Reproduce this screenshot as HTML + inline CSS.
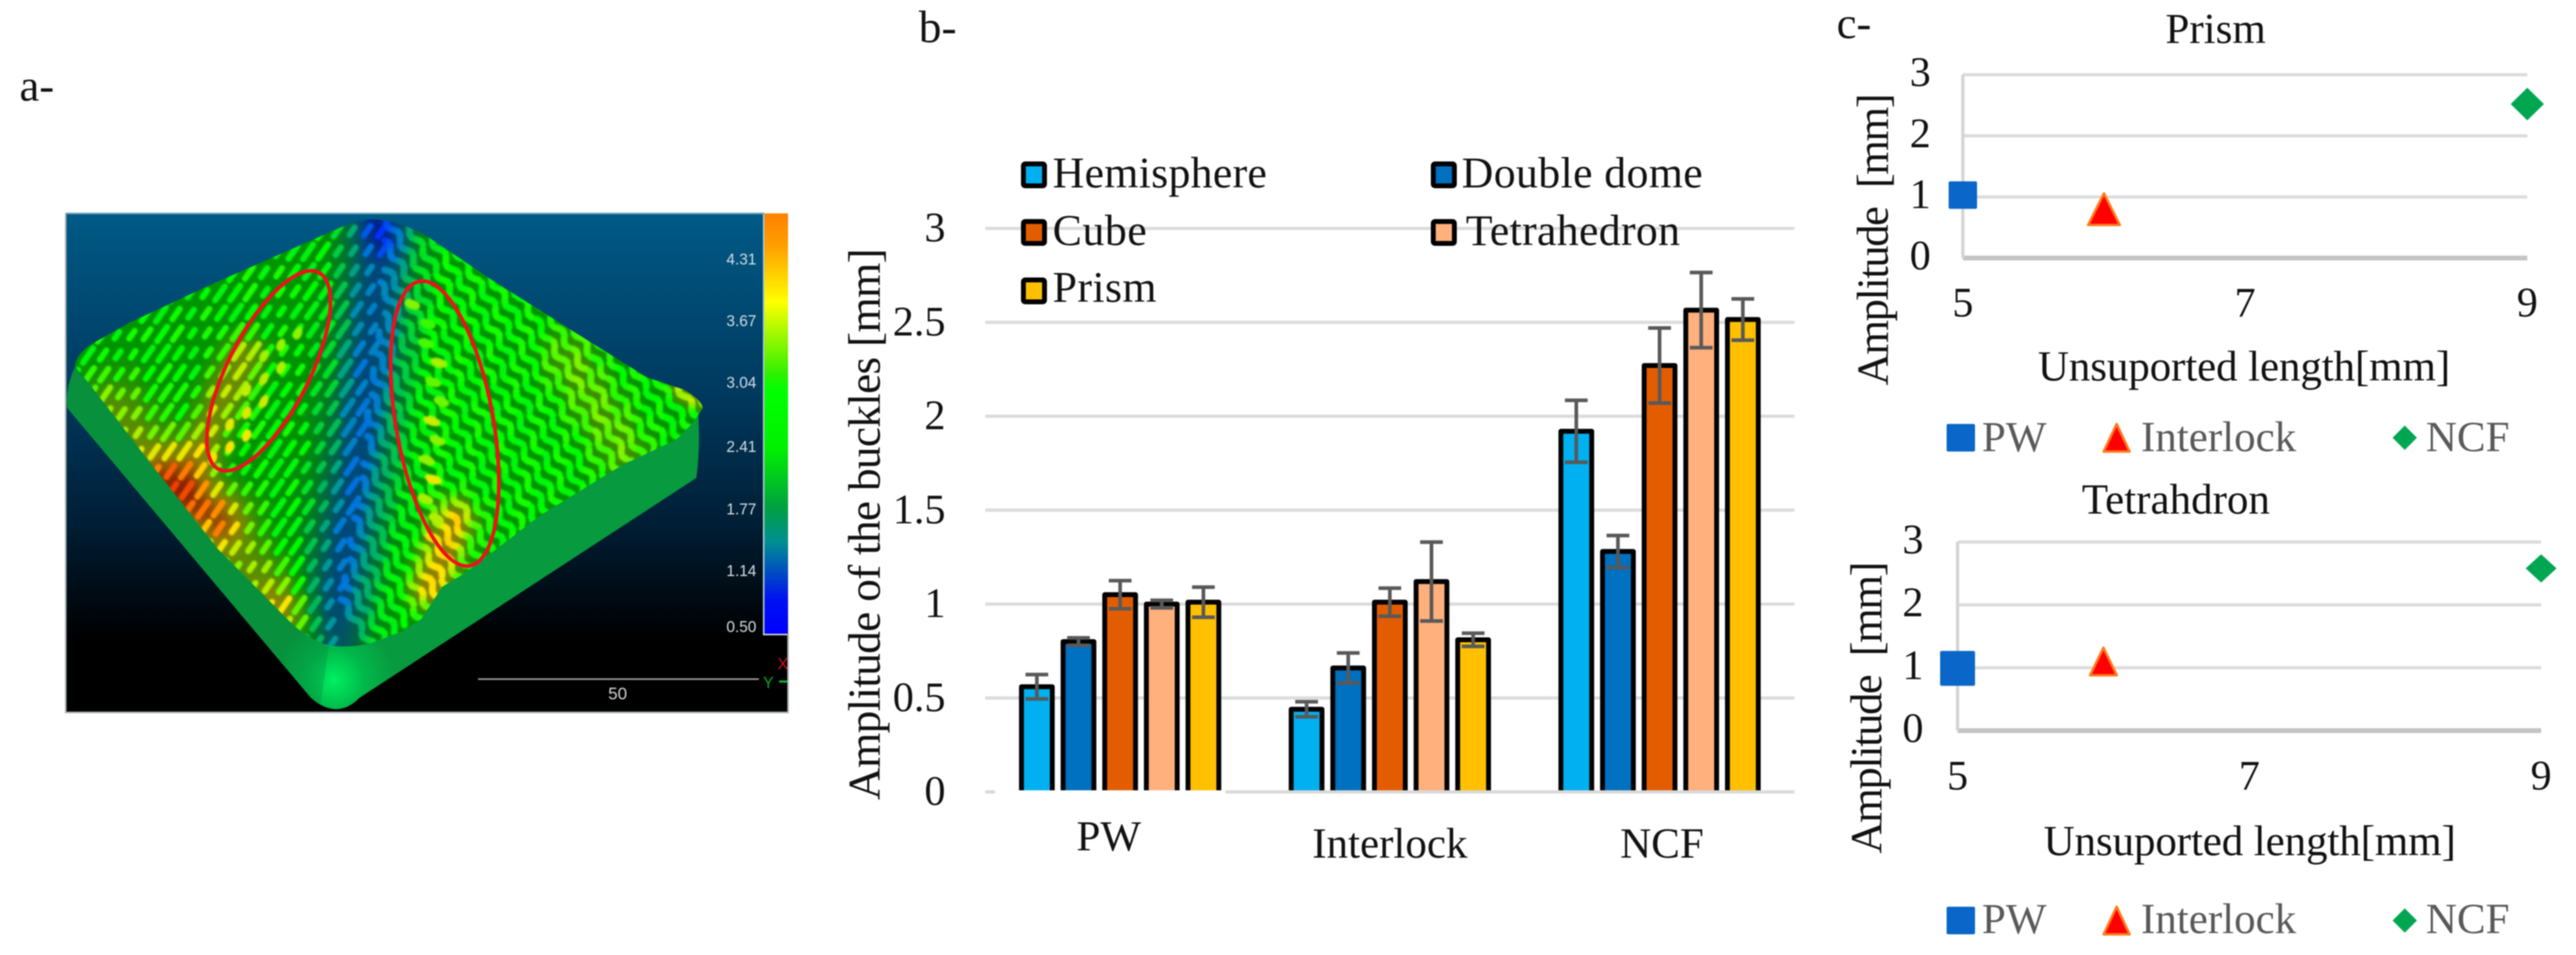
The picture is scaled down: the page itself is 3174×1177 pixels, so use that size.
<!DOCTYPE html>
<html lang="en">
<head>
<meta charset="utf-8">
<title>Buckle amplitude figure</title>
<style>
html,body{margin:0;padding:0;background:#fff;}
body{width:3174px;height:1177px;overflow:hidden;}
svg{display:block;filter:blur(0.8px);}
text{font-family:"Liberation Serif","DejaVu Serif",serif;fill:#111;}
</style>
</head>
<body>
<svg id="fig" xmlns="http://www.w3.org/2000/svg" width="3174" height="1177" viewBox="0 0 3174 1177">
  <defs>
    <linearGradient id="bgGrad" x1="0" y1="0" x2="0" y2="1">
      <stop offset="0" stop-color="#005a86"/>
      <stop offset="0.35" stop-color="#003a60"/>
      <stop offset="0.62" stop-color="#001e35"/>
      <stop offset="0.85" stop-color="#000000"/>
      <stop offset="1" stop-color="#000000"/>
    </linearGradient>
    <linearGradient id="barGrad" x1="0" y1="0" x2="0" y2="1">
      <stop offset="0" stop-color="#ff8000"/>
      <stop offset="0.08" stop-color="#ffa000"/>
      <stop offset="0.21" stop-color="#ffff00"/>
      <stop offset="0.38" stop-color="#30f000"/>
      <stop offset="0.42" stop-color="#00ff00"/>
      <stop offset="0.56" stop-color="#00f000"/>
      <stop offset="0.70" stop-color="#00a040"/>
      <stop offset="0.78" stop-color="#009090"/>
      <stop offset="0.92" stop-color="#0010f0"/>
      <stop offset="1" stop-color="#0000ff"/>
    </linearGradient>
    <radialGradient id="tipGrad" gradientUnits="userSpaceOnUse" cx="412" cy="838" r="75">
      <stop offset="0" stop-color="#00f060"/>
      <stop offset="0.5" stop-color="#00b84a"/>
      <stop offset="1" stop-color="#089a3e"/>
    </radialGradient>
    <clipPath id="surfaceClip">
      <path d="M92,452 Q94,434 120,420 L159,398 L255,353 L357,308 L434,274 Q469,262 523,289 L606,345 L701,405 L797,465 L842,480 Q864,492 866,503 L853,522 L833,542 L767,573 L666,635 L572,707 L545,723 L519,763 L496,778 L456,793 Q425,800 400,794 Q375,784 357,766 L268,676 L191,578 L110,473 Z"/>
    </clipPath>
    <clipPath id="panelClip"><rect x="81" y="263" width="861" height="615"/></clipPath>
    <filter id="softBig" x="-5%" y="-5%" width="110%" height="110%"><feGaussianBlur stdDeviation="7"/></filter>
    <filter id="softSmall" x="-2%" y="-2%" width="104%" height="104%"><feGaussianBlur stdDeviation="1.1"/></filter>
  </defs>

  <rect x="0" y="0" width="3174" height="1177" fill="#ffffff"/>

  <text x="24" y="124" font-size="55">a-</text>
  <text x="1132" y="52" font-size="56">b-</text>
  <text x="2263" y="47" font-size="55">c-</text>

  <g id="scan">
    <rect x="81" y="263" width="890" height="615" fill="url(#bgGrad)"/>
    <g clip-path="url(#panelClip)">
      <path d="M92,453 Q80,480 83,503 L383,860 Q415,888 443,860 L858,589 Q862,560 861,525 L860,500 L412,700 L110,473 Z" fill="url(#tipGrad)"/>
      <path d="M92,453 Q80,480 83,503 L383,860 L395,868 L405,797 L376,782 L110,473 Z" fill="#0a7c3a" opacity="0.3"/>
      <g id="surfaceUnder" clip-path="url(#surfaceClip)"></g>
      <g id="surfaceTex" clip-path="url(#surfaceClip)" filter="url(#softSmall)"></g>
    </g>
    <ellipse cx="331" cy="457" rx="50" ry="136" transform="rotate(27 331 457)" fill="none" stroke="#f0101c" stroke-width="4.5"/>
    <ellipse cx="548" cy="522" rx="60" ry="178" transform="rotate(-10 548 522)" fill="none" stroke="#f0101c" stroke-width="4.5"/>
    <rect x="942" y="263" width="29" height="518" fill="url(#barGrad)"/>
    <line x1="941" y1="263" x2="941" y2="783" stroke="#a8c8d0" stroke-width="2"/>
    <line x1="940" y1="782" x2="971" y2="782" stroke="#c8d0d4" stroke-width="2"/>
    <g id="scanTicks"></g>
    <line x1="589" y1="837" x2="935" y2="837" stroke="#9a9a9a" stroke-width="2"/>
    <text x="761" y="862" font-size="21" text-anchor="middle" style="font-family:'Liberation Sans',sans-serif;fill:#d0d0d0;">50</text>
    <text x="958" y="825" font-size="20" style="font-family:'Liberation Sans',sans-serif;fill:#d01010;">X</text>
    <text x="940" y="848" font-size="20" style="font-family:'Liberation Sans',sans-serif;fill:#10a020;">Y</text>
    <line x1="960" y1="840" x2="971" y2="840" stroke="#10c030" stroke-width="2.5"/>
    <path d="M81,263 V878 H971 V781" fill="none" stroke="#a9b0b4" stroke-width="2"/>
    <line x1="81" y1="263" x2="942" y2="263" stroke="#6fa8c0" stroke-width="2"/>
  </g>

  <g id="barChart"></g>
  <g id="prismChart"></g>
  <g id="tetraChart"></g>
</svg>

<script>
// ---------- Bar chart data ----------
const barCategories = ['PW', 'Interlock', 'NCF'];
const barSeriesNames = ['Hemisphere', 'Double dome', 'Cube', 'Tetrahedron', 'Prism'];
const hemisphereValues = [0.56, 0.44, 1.92];
const doubleDomeValues = [0.80, 0.66, 1.28];
const cubeValues = [1.05, 1.01, 2.27];
const tetrahedronValues = [1.00, 1.12, 2.565];
const prismValues = [1.01, 0.81, 2.515];
const hemisphereErrors = [0.065, 0.04, 0.165];
const doubleDomeErrors = [0.02, 0.08, 0.085];
const cubeErrors = [0.075, 0.075, 0.20];
const tetrahedronErrors = [0.02, 0.21, 0.20];
const prismErrors = [0.08, 0.035, 0.11];
const barTicks = [0, 0.5, 1, 1.5, 2, 2.5, 3];

// ---------- Scatter data ----------
const scatterSeriesNames = ['PW', 'Interlock', 'NCF'];
const scatterXTicks = [5, 7, 9];
const scatterYTicks = [0, 1, 2, 3];
const unsupportedLengths = [5, 6, 9];
const prismAmplitudes = [1.03, 0.80, 2.52];
const tetrahedronAmplitudes = [0.99, 1.10, 2.58];

// ---------- Colour bar labels ----------
const scanBarLabels = ['4.31', '3.67', '3.04', '2.41', '1.77', '1.14', '0.50'];

const NS = 'http://www.w3.org/2000/svg';
function mk(parent, tag, attrs, txt) {
  const el = document.createElementNS(NS, tag);
  for (const k in attrs) el.setAttribute(k, attrs[k]);
  if (txt !== undefined) el.textContent = txt;
  parent.appendChild(el);
  return el;
}

// ---------- Bar chart ----------
(function () {
  const root = document.getElementById('barChart');
  const seriesValues = [hemisphereValues, doubleDomeValues, cubeValues, tetrahedronValues, prismValues];
  const seriesErrors = [hemisphereErrors, doubleDomeErrors, cubeErrors, tetrahedronErrors, prismErrors];
  const fills = ['#00b0f0', '#0070c0', '#e35d00', '#ffb07c', '#ffc000'];
  const left = 1214, right = 2211, y0 = 976, pxPerUnit = 231.5;
  const band = (right - left) / barCategories.length;
  const yScale = v => y0 - pxPerUnit * v;
  const bandCenter = i => left + band * (i + 0.5);
  const barStride = 51.3, barW = 38;
  const barX = (g, s) => bandCenter(g) + (s - 2) * barStride - barW / 2;

  barTicks.forEach(t => {
    if (t === 0) {
      const a = mk(root, 'line', {x1: left, x2: 1226, y1: yScale(t), y2: yScale(t), stroke: '#d9d9d9', 'stroke-width': 4});
      
      
      const b = mk(root, 'line', {x1: 1510, x2: right, y1: yScale(t), y2: yScale(t), stroke: '#d9d9d9', 'stroke-width': 4});
      
      
    } else {
      const g = mk(root, 'line', {x1: left, x2: right, y1: yScale(t), y2: yScale(t), stroke: '#dcdcdc', 'stroke-width': 4});
      
      
    }
    const l = mk(root, 'text', {x: 1165, y: yScale(t) + 16, 'font-size': 52, 'text-anchor': 'end'}, String(t));
    
    
  });

  seriesValues.forEach((vals, s) => {
    vals.forEach((v, g) => {
      const x = barX(g, s), top = yScale(v), bottom = y0 - 2;
      const f = mk(root, 'rect', {x: x, y: top, width: barW, height: bottom - top, fill: fills[s]});
      
      
      const o = mk(root, 'path', {d: 'M' + x + ',' + bottom + ' V' + top + ' H' + (x + barW) + ' V' + bottom, fill: 'none', stroke: '#000', 'stroke-width': 6, 'stroke-linejoin': 'round'});
      
      
    });
  });

  seriesValues.forEach((vals, s) => {
    vals.forEach((v, g) => {
      const cx = barX(g, s) + barW / 2, hi = yScale(v + seriesErrors[s][g]), lo = yScale(v - seriesErrors[s][g]);
      const e = mk(root, 'path', {d: 'M' + cx + ',' + hi + ' V' + lo + ' M' + (cx - 14) + ',' + hi + ' H' + (cx + 14) + ' M' + (cx - 14) + ',' + lo + ' H' + (cx + 14), fill: 'none', stroke: '#595959', 'stroke-width': 4.5});
      
      
    });
  });

  const labelShiftX = [-14, 0, 3], labelY = [1048, 1057, 1057];
  barCategories.forEach((c, i) => {
    const l = mk(root, 'text', {x: bandCenter(i) + labelShiftX[i], y: labelY[i], 'font-size': 53, 'text-anchor': 'middle'}, c);
    
    
  });

  const title = mk(root, 'text', {transform: 'translate(1084,986) rotate(-90)', 'font-size': 56, textLength: 680}, 'Amplitude of the buckles [mm]');
  
  

  const legendX = [1258, 1763, 1258, 1763, 1258];
  const legendY = [199, 199, 270, 270, 342];
  const legendBase = [231, 231, 302, 302, 372];
  const legendTextX = [1297, 1801, 1297, 1806, 1297];
  const legendTextW = [264, 297, 116, 264, 128];
  barSeriesNames.forEach((n, i) => {
    const sw = mk(root, 'rect', {x: legendX[i] + 3, y: legendY[i] + 3, width: 26, height: 27, rx: 2, fill: fills[i], stroke: '#000', 'stroke-width': 6});
    
    
    const t = mk(root, 'text', {x: legendTextX[i], y: legendBase[i], 'font-size': 54, textLength: legendTextW[i]}, n);
    
    
  });
})();

// ---------- Scatter charts ----------
function drawScatter(root, cfg, amplitudes) {
  const xScale = v => cfg.left + (v - 5) * (cfg.right - cfg.left) / 4;
  const yScale = v => cfg.y0 - v * cfg.pxPerUnit;

  const title = mk(root, 'text', {x: cfg.titleX, y: cfg.titleY, 'font-size': 53, 'text-anchor': 'middle'}, cfg.title);
  
  

  scatterYTicks.forEach(t => {
    const g = mk(root, 'line', {x1: cfg.left, x2: cfg.right, y1: yScale(t), y2: yScale(t), stroke: t === 0 ? '#c4c4c4' : '#dcdcdc', 'stroke-width': t === 0 ? 6 : 4});
    
    
    const l = mk(root, 'text', {x: cfg.yTickX, y: yScale(t) + cfg.yTickDy, 'font-size': 52, 'text-anchor': 'end'}, String(t));
    
    
  });
  const axis = mk(root, 'line', {x1: cfg.left, x2: cfg.left, y1: yScale(3), y2: yScale(0), stroke: '#d4d4d4', 'stroke-width': 4});
  
  

  scatterXTicks.forEach(t => {
    const l = mk(root, 'text', {x: xScale(t), y: cfg.xTickY, 'font-size': 52, 'text-anchor': 'middle'}, String(t));
    
    
  });

  const xt = mk(root, 'text', {x: cfg.xTitleX, y: cfg.xTitleY, 'font-size': 53, textLength: 508}, 'Unsuported length[mm]');
  
  
  const yt = mk(root, 'text', {transform: 'translate(' + cfg.yTitleX + ',' + cfg.yTitleY + ') rotate(-90)', 'font-size': 55, textLength: 360}, 'Amplitude\u00A0\u00A0[mm]');
  
  

  const square = (x, y, w, h) => mk(root, 'rect', {x: x - w / 2, y: y - h / 2, width: w, height: h, rx: 2, fill: '#0a66c8'});
  const triangle = (x, y, w, h) => mk(root, 'polygon', {points: x + ',' + (y - h / 2) + ' ' + (x + w / 2) + ',' + (y + h / 2) + ' ' + (x - w / 2) + ',' + (y + h / 2), fill: '#ff0000', stroke: '#ff7a1a', 'stroke-width': 3, 'stroke-linejoin': 'round'});
  const diamond = (x, y, w, h) => mk(root, 'polygon', {points: x + ',' + (y - h / 2) + ' ' + (x + w / 2) + ',' + y + ' ' + x + ',' + (y + h / 2) + ' ' + (x - w / 2) + ',' + y, fill: '#00a651'});
  const shapes = [square, triangle, diamond];

  amplitudes.forEach((v, i) => {
    const s = cfg.markerSizes[i];
    const m = shapes[i](xScale(unsupportedLengths[i]), yScale(v), s, s * cfg.markerAspect[i]);
    
    
  });

  const legendMarkX = [2416, 2608, 2963];
  const legendTextX = [2442, 2638, 2989];
  const legendSizes = [35, 32, 30];
  scatterSeriesNames.forEach((n, i) => {
    const m = shapes[i](legendMarkX[i], cfg.legendMarkY, legendSizes[i], i === 2 ? 30 : 34);
    
    
    const t = mk(root, 'text', {x: legendTextX[i], y: cfg.legendTextY, 'font-size': 53, style: 'fill:#595959'}, n);
    
    
  });
}

drawScatter(document.getElementById('prismChart'), {
  title: 'Prism', titleX: 2730, titleY: 53,
  left: 2418.5, right: 3114, y0: 318, pxPerUnit: 75.3,
  yTickX: 2379, yTickDy: 14, xTickY: 390,
  xTitleX: 2511, xTitleY: 469, yTitleX: 2326, yTitleY: 475,
  markerSizes: [35, 39, 41], markerAspect: [0.97, 1.0, 0.98],
  legendMarkY: 539.5, legendTextY: 556
}, prismAmplitudes);

drawScatter(document.getElementById('tetraChart'), {
  title: 'Tetrahdron', titleX: 2681, titleY: 633,
  left: 2412, right: 3131, y0: 900.5, pxPerUnit: 77.5,
  yTickX: 2370, yTickDy: 14, xTickY: 973,
  xTitleX: 2518, xTitleY: 1054, yTitleX: 2318, yTitleY: 1052,
  markerSizes: [43, 33, 38], markerAspect: [1.0, 1.03, 0.92],
  legendMarkY: 1134.5, legendTextY: 1150
}, tetrahedronAmplitudes);

// ---------- Colour bar ticks ----------
(function () {
  const root = document.getElementById('scanTicks');
  const labelY = [326, 402, 478, 557, 634, 710, 779];
  scanBarLabels.forEach((s, i) => {
    const t = mk(root, 'text', {x: 932, y: labelY[i], 'font-size': 19, 'text-anchor': 'end', style: "font-family:'Liberation Sans',sans-serif;fill:#d4dce0;"}, s);
    
    
  });
})();

// ---------- Illustrated scan surface (picture texture, not chart data) ----------
(function () {
  const ridgeX = y => 470 - 0.06 * (y - 270) - 0.00012 * (y - 270) * (y - 270);
  function seg(x, y, ax, ay, bx, by, w) {
    const dx = bx - ax, dy = by - ay;
    let u = ((x - ax) * dx + (y - ay) * dy) / (dx * dx + dy * dy);
    u = Math.max(0, Math.min(1, u));
    const px = ax + u * dx - x, py = ay + u * dy - y;
    return Math.exp(-(px * px + py * py) / (w * w));
  }
  function heat(x, y) {
    const d = (x - ridgeX(y)) / 44;
    let t = 0.5 - 0.30 * Math.exp(-d * d);
    t -= 0.20 * seg(x, y, 462, 275, 470, 292, 22);
    t += 0.15 * seg(x, y, 140, 510, 345, 750, 42);
    t += 0.20 * seg(x, y, 225, 600, 300, 440, 24);
    t += 0.28 * seg(x, y, 195, 590, 270, 640, 30);
    t += 0.12 * seg(x, y, 340, 745, 385, 790, 26);
    t += 0.28 * seg(x, y, 530, 725, 560, 640, 24);
    t += 0.10 * seg(x, y, 700, 440, 770, 560, 34);
    t += 0.20 * seg(x, y, 835, 478, 860, 495, 9);
    return Math.max(0, Math.min(1, t));
  }
  const stops = [[0, 0, 48, 255], [0.2, 0, 120, 215], [0.35, 0, 185, 90], [0.5, 0, 255, 0], [0.62, 130, 245, 0], [0.75, 255, 230, 0], [0.9, 255, 128, 0], [1, 240, 60, 0]];
  function col(t, k) {
    let i = 0;
    while (i < stops.length - 2 && t > stops[i + 1][0]) i++;
    const a = stops[i], b = stops[i + 1], f = Math.max(0, Math.min(1, (t - a[0]) / (b[0] - a[0])));
    const c = [1, 2, 3].map(j => Math.round((a[j] + (b[j] - a[j]) * f) * k));
    return 'rgb(' + c[0] + ',' + c[1] + ',' + c[2] + ')';
  }
  const under = document.getElementById('surfaceUnder');
  const soft = mk(under, 'g', {filter: 'url(#softBig)'});
  for (let y = 260; y < 805; y += 12) {
    for (let x = 85; x < 875; x += 12) {
      mk(soft, 'rect', {x: x, y: y, width: 13, height: 13, fill: col(heat(x + 6, y + 6), 0.58)});
    }
  }
  const tex = document.getElementById('surfaceTex');
  // left face: short up-right dashes
  const a1x = 0.57, a1y = -0.82, a2x = 0.82, a2y = 0.57;
  let html = '';
  for (let v = -50; v < 70; v++) {
    for (let u = -40; u < 40; u++) {
      const off = (v * 11) % 30;
      const uu = u * 30 + off, vv = v * 15;
      const x = 300 + uu * a1x + vv * a2x, y = 530 + uu * a1y + vv * a2y;
      if (x < 85 || y < 260 || y > 805 || x > ridgeX(y) + 6) continue;
      const jitter = 0.025 * Math.sin(u * 2.3 + v * 1.7);
      const t = heat(x, y) + jitter;
      const l = 8 + 3 * Math.sin(u * 1.3 + v * 0.7);
      html += '<line x1="' + (x - a1x * l).toFixed(1) + '" y1="' + (y - a1y * l).toFixed(1) + '" x2="' + (x + a1x * l).toFixed(1) + '" y2="' + (y + a1y * l).toFixed(1) + '" stroke="' + col(t, 1) + '" stroke-width="7.5" stroke-linecap="round"/>';
    }
  }
  // right face: wavy down-right strands
  const b1x = 0.55, b1y = 0.83, b2x = 0.83, b2y = -0.55;
  for (let v = -12; v < 48; v++) {
    for (let u = -50; u < 55; u++) {
      if (((u + v * 3) % 7 + 7) % 7 === 6) continue;
      const step = 5;
      const pos = s => {
        const wave = 4 * Math.sin(s * 1.05 + v * 0.9);
        return [480 + s * step * b1x + (v * 17 + wave) * b2x, 460 + s * step * b1y + (v * 17 + wave) * b2y];
      };
      const p = pos(u), q = pos(u + 1);
      if (p[0] < ridgeX(p[1]) + 4 || p[1] < 260 || p[1] > 805 || p[0] > 875) continue;
      const t = heat(p[0], p[1]) + 0.02 * Math.sin(u * 0.6 + v * 2.1);
      html += '<line x1="' + p[0].toFixed(1) + '" y1="' + p[1].toFixed(1) + '" x2="' + q[0].toFixed(1) + '" y2="' + q[1].toFixed(1) + '" stroke="' + col(t, 1) + '" stroke-width="8.5" stroke-linecap="round"/>';
    }
  }
  // pronounced buckles inside the right ellipse
  for (let i = 0; i < 13; i++) {
    const y = 375 + i * 24, x = 512 + 14 * Math.sin(i * 0.45) + i * 3 + (i % 2 ? 6 : -4);
    const t = 0.54 + i * 0.012 + (i % 3 === 0 ? 0.08 : 0);
    html += '<ellipse cx="' + x.toFixed(1) + '" cy="' + y + '" rx="10" ry="5.5" transform="rotate(20 ' + x.toFixed(1) + ' ' + y + ')" fill="' + col(t, 1) + '"/>';
  }
  // yellow buckles inside the left ellipse
  for (let i = 0; i < 12; i++) {
    const y = 565 - i * 14, x = 262 + i * 7 + (i % 3) * 14;
    const t = 0.76 - i * 0.012;
    html += '<ellipse cx="' + x + '" cy="' + y + '" rx="5" ry="8" transform="rotate(25 ' + x + ' ' + y + ')" fill="' + col(t, 1) + '"/>';
  }
  tex.innerHTML = html;
})();
</script>
</body>
</html>
